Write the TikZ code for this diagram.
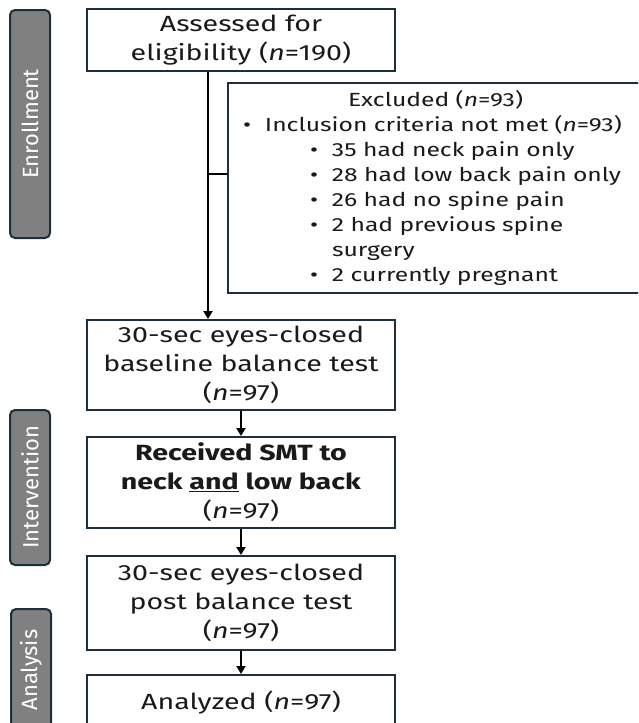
\documentclass[tikz,border=0pt]{standalone}
\usepackage{fontspec}
\setmainfont{Fira Sans}[FakeStretch=1.3]
\newfontfamily\sidefont{Fira Sans}
\usetikzlibrary{arrows.meta}
\definecolor{boxedge}{HTML}{1B2F3C}
\definecolor{sidegray}{HTML}{808080}
\definecolor{inktext}{HTML}{1A1A1A}
\newcommand{\nn}{\textit{n}}
\newcommand{\bul}{\makebox[22pt][l]{\textbullet}}

\begin{document}
\begin{tikzpicture}[x=1pt,y=-1pt,
	stagebox/.style={draw=boxedge, line width=2pt, fill=white, text=inktext, align=center,
		minimum width=308pt, inner sep=0pt, font=\fontsize{22}{29}\selectfont},
	exclbox/.style={draw=boxedge, line width=2pt, fill=white, text=inktext, align=left,
		inner xsep=15pt, inner ysep=0pt, font=\fontsize{19}{25}\selectfont},
	sidelabel/.style={draw=boxedge, line width=2pt, fill=sidegray, text=white, rounded corners=5pt,
		rotate=90, minimum height=40pt, inner sep=0pt, font=\sidefont\fontsize{22}{26}\selectfont},
	flow/.style={line width=2.5pt, -{Triangle[length=8pt,width=9pt]}}]
	\clip (0,0) rectangle (638,723);
	% phase labels
	\node[sidelabel, minimum width=228pt] (enrol) at (30,124) {Enrollment};
	\node[sidelabel, minimum width=155pt] (interven) at (30,487.5) {Intervention};
	\node[sidelabel, minimum width=122pt] (analysis) at (31,670) {Analysis};
	% flow boxes
	\node[stagebox, minimum height=62pt] (assess) at (241,40) {Assessed for\\eligibility (\nn=190)};
	\node[exclbox, anchor=north west, minimum height=210pt, text width=420pt] (excl) at (227,82)
		{\makebox[385pt][c]{Excluded (\nn=93)}\\
		\bul Inclusion criteria not met (\nn=93)\\
		\hspace*{67pt}\bul 35 had neck pain only\\
		\hspace*{67pt}\bul 28 had low back pain only\\
		\hspace*{67pt}\bul 26 had no spine pain\\
		\hspace*{67pt}\bul 2 had previous spine\\
		\hspace*{89pt}surgery\\
		\hspace*{67pt}\bul 2 currently pregnant};
	\node[stagebox, minimum height=90pt] (baseline) at (241,365) {30-sec eyes-closed\\baseline balance test\\(\nn=97)};
	\node[stagebox, minimum height=91pt] (smt) at (241,482.5) {\textbf{Received SMT to}\\\textbf{neck \underline{and} low back}\\(\nn=97)};
	\node[stagebox, minimum height=94pt] (post) at (241,603) {30-sec eyes-closed\\post balance test\\(\nn=97)};
	\node[stagebox, minimum height=56pt] (analyzed) at (241,703) {Analyzed (\nn=97)};
	% connectors
	\coordinate (trunk) at (208,0);
	\coordinate (split) at (208,174);
	\draw[flow] (assess.south -| trunk) -- (baseline.north -| trunk);
	\draw[line width=2pt] (split) -- (split -| excl.west);
	\draw[flow] (baseline.south) -- (smt.north);
	\draw[flow] (smt.south) -- (post.north);
	\draw[flow] (post.south) -- (analyzed.north);
\end{tikzpicture}
\end{document}
